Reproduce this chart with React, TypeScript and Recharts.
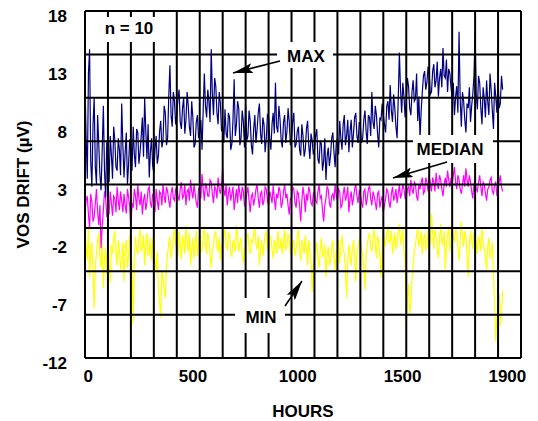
import { LineChart, Line, XAxis, YAxis, ReferenceLine } from 'recharts';

// hours since start, one reading every 5 h
const HOURS = [
  0, 5, 10, 15, 20, 25, 30, 35, 40, 45, 50, 55, 60, 65, 70, 75, 80, 85, 90, 95,
  100, 105, 110, 115, 120, 125, 130, 135, 140, 145, 150, 155, 160, 165, 170, 175, 180, 185, 190, 195,
  200, 205, 210, 215, 220, 225, 230, 235, 240, 245, 250, 255, 260, 265, 270, 275, 280, 285, 290, 295,
  300, 305, 310, 315, 320, 325, 330, 335, 340, 345, 350, 355, 360, 365, 370, 375, 380, 385, 390, 395,
  400, 405, 410, 415, 420, 425, 430, 435, 440, 445, 450, 455, 460, 465, 470, 475, 480, 485, 490, 495,
  500, 505, 510, 515, 520, 525, 530, 535, 540, 545, 550, 555, 560, 565, 570, 575, 580, 585, 590, 595,
  600, 605, 610, 615, 620, 625, 630, 635, 640, 645, 650, 655, 660, 665, 670, 675, 680, 685, 690, 695,
  700, 705, 710, 715, 720, 725, 730, 735, 740, 745, 750, 755, 760, 765, 770, 775, 780, 785, 790, 795,
  800, 805, 810, 815, 820, 825, 830, 835, 840, 845, 850, 855, 860, 865, 870, 875, 880, 885, 890, 895,
  900, 905, 910, 915, 920, 925, 930, 935, 940, 945, 950, 955, 960, 965, 970, 975, 980, 985, 990, 995,
  1000, 1005, 1010, 1015, 1020, 1025, 1030, 1035, 1040, 1045, 1050, 1055, 1060, 1065, 1070, 1075, 1080, 1085, 1090, 1095,
  1100, 1105, 1110, 1115, 1120, 1125, 1130, 1135, 1140, 1145, 1150, 1155, 1160, 1165, 1170, 1175, 1180, 1185, 1190, 1195,
  1200, 1205, 1210, 1215, 1220, 1225, 1230, 1235, 1240, 1245, 1250, 1255, 1260, 1265, 1270, 1275, 1280, 1285, 1290, 1295,
  1300, 1305, 1310, 1315, 1320, 1325, 1330, 1335, 1340, 1345, 1350, 1355, 1360, 1365, 1370, 1375, 1380, 1385, 1390, 1395,
  1400, 1405, 1410, 1415, 1420, 1425, 1430, 1435, 1440, 1445, 1450, 1455, 1460, 1465, 1470, 1475, 1480, 1485, 1490, 1495,
  1500, 1505, 1510, 1515, 1520, 1525, 1530, 1535, 1540, 1545, 1550, 1555, 1560, 1565, 1570, 1575, 1580, 1585, 1590, 1595,
  1600, 1605, 1610, 1615, 1620, 1625, 1630, 1635, 1640, 1645, 1650, 1655, 1660, 1665, 1670, 1675, 1680, 1685, 1690, 1695,
  1700, 1705, 1710, 1715, 1720, 1725, 1730, 1735, 1740, 1745, 1750, 1755, 1760, 1765, 1770, 1775, 1780, 1785, 1790, 1795,
  1800, 1805, 1810, 1815, 1820,
];

const MAX_VOS = [
  11.6, 7.0, 3.5, 12.6, 14.7, 5.0, 2.8, 8.2, 10.5, 4.5, 3.0, 9.0, 6.5, 3.8, 2.5, 6.0, 9.8, 4.2, 1.9, 6.8,
  5.0, 3.2, 7.2, 5.6, 3.5, 8.0, 6.8, 4.5, 4.2, 7.0, 6.0, 3.8, 10.0, 6.4, 3.6, 5.8, 7.5, 3.0, 4.8, 6.9,
  6.2, 4.2, 8.0, 5.6, 4.5, 7.8, 7.5, 4.8, 5.8, 7.2, 8.8, 5.4, 10.5, 7.6, 5.2, 8.2, 3.6, 5.8, 7.0, 4.6,
  4.0, 6.0, 7.2, 4.8, 5.5, 7.6, 8.5, 6.2, 6.8, 9.8, 9.2, 6.4, 7.0, 10.6, 13.3, 9.0, 8.0, 11.0, 10.2, 8.2,
  9.0, 10.4, 11.2, 8.4, 7.8, 9.6, 10.5, 7.4, 8.6, 11.0, 9.8, 8.0, 7.2, 10.2, 8.8, 6.2, 6.5, 8.4, 9.0, 7.0,
  7.5, 8.6, 6.0, 9.4, 12.6, 9.8, 8.8, 11.2, 10.2, 8.4, 14.7, 10.8, 9.0, 12.2, 11.5, 9.2, 8.2, 11.0, 10.0, 7.6,
  8.0, 6.6, 9.5, 7.4, 7.0, 9.2, 8.8, 6.0, 6.5, 8.6, 12.1, 7.2, 8.2, 10.2, 9.6, 6.4, 7.0, 9.4, 8.5, 6.2,
  9.8, 6.8, 7.2, 9.4, 8.5, 6.4, 5.6, 7.8, 9.0, 6.6, 7.8, 9.2, 10.0, 7.4, 6.5, 8.8, 8.2, 5.8, 7.0, 9.0,
  8.8, 7.0, 6.0, 8.2, 9.2, 7.4, 11.8, 8.0, 7.5, 9.8, 8.6, 6.8, 6.2, 8.4, 9.0, 6.6, 7.6, 9.6, 8.4, 6.4,
  7.0, 8.4, 9.2, 6.2, 6.5, 7.6, 8.0, 6.0, 5.5, 8.2, 7.2, 5.4, 6.0, 7.8, 8.5, 6.4, 5.2, 7.4, 6.8, 5.6,
  6.0, 7.2, 7.8, 5.2, 4.8, 6.8, 6.5, 4.2, 5.0, 7.0, 3.4, 5.4, 6.2, 4.6, 5.5, 7.0, 7.5, 5.8, 4.5, 6.6,
  7.0, 5.6, 8.5, 7.0, 6.0, 8.2, 9.0, 6.4, 7.2, 8.6, 5.8, 7.6, 8.6, 6.2, 7.4, 8.8, 9.2, 7.2, 6.6, 8.4,
  8.0, 6.6, 7.0, 8.6, 9.4, 7.6, 6.5, 9.0, 8.8, 7.2, 11.0, 8.4, 7.8, 9.8, 9.0, 7.4, 6.2, 8.8, 8.6, 10.0,
  9.0, 8.2, 7.5, 9.8, 10.2, 8.6, 11.6, 9.4, 8.4, 10.8, 9.6, 8.0, 7.0, 10.4, 14.4, 11.2, 9.2, 11.8, 10.6, 8.8,
  10.0, 12.2, 11.5, 9.6, 9.0, 11.0, 12.0, 10.2, 10.4, 12.6, 8.5, 10.6, 7.0, 9.4, 11.0, 12.4, 12.8, 11.2, 11.8, 13.2,
  12.5, 10.8, 11.0, 12.8, 13.4, 11.4, 12.0, 13.6, 10.6, 12.2, 13.0, 11.4, 14.8, 12.4, 12.2, 13.8, 11.0, 13.0, 12.6, 11.4,
  10.5, 11.8, 9.0, 10.6, 11.5, 9.2, 16.2, 10.4, 8.0, 11.0, 10.2, 8.6, 7.5, 10.0, 9.6, 11.4, 8.4, 9.8, 10.8, 12.4,
  16.1, 10.8, 9.5, 12.4, 11.8, 9.6, 8.2, 11.4, 10.4, 8.8, 12.0, 10.2, 9.0, 12.6, 11.2, 9.4, 7.8, 11.8, 10.6, 9.2,
  12.0, 9.6, 10.0, 12.4, 11.2,
];

const MEDIAN_VOS = [
  0.5, 1.6, 2.0, 0.4, -0.8, 2.2, 1.5, -0.2, 0.2, 1.4, 2.6, 0.6, -0.5, 1.2, -2.5, -0.6, 0.8, 2.4, 1.8, 0.2,
  1.2, 0.4, 2.4, 1.4, 0.3, 2.0, 1.8, 0.6, 2.8, 1.6, 0.8, 2.4, 1.6, 0.6, 2.2, 1.2, 0.5, 2.6, 1.9, 1.0,
  -0.8, 1.4, 1.0, 2.6, 2.0, 0.8, 3.0, 1.8, 1.2, 2.4, 0.4, 1.6, 2.2, 0.8, 1.5, 2.6, 2.8, 1.4, 1.0, 2.2,
  1.8, 0.6, 2.6, 1.6, 0.8, 2.4, 2.2, 1.2, 3.0, 2.0, 1.4, 2.8, 2.4, 1.6, 1.0, 2.2, 2.8, 1.8, 1.6, 2.6,
  2.8, 2.0, 1.6, 2.6, 3.2, 1.8, 2.0, 3.0, 1.2, 2.4, 2.6, 1.6, 3.4, 2.4, 1.8, 3.0, 2.2, 1.4, 1.0, 2.6,
  2.4, 1.8, 3.9, 2.6, 1.6, 3.0, 2.8, 2.0, 2.0, 3.4, 3.2, 2.2, 1.4, 2.8, 2.6, 1.8, 3.6, 2.6, 2.2, 3.0,
  4.5, 2.6, 2.0, 3.0, 1.2, 2.2, 2.8, 1.6, 2.2, 2.8, 0.8, 1.8, 2.6, 1.4, 3.0, 2.2, 1.6, 2.8, 2.4, 1.2,
  1.4, 2.2, 2.8, 1.6, 0.6, 2.0, 2.2, 1.2, 1.8, 2.6, 3.0, 1.8, 1.0, 2.2, 2.4, 1.2, 1.6, 2.8, 2.6, 1.6,
  1.2, 2.4, 2.0, 1.4, 2.9, 1.8, 0.8, 2.2, 1.8, 2.8, 2.4, 1.0, 1.4, 2.4, 3.0, 1.8, 2.2, 1.2, 0.4, 1.8,
  1.8, 2.8, 2.6, 1.4, 1.0, 2.4, 2.2, 1.2, -0.2, 1.6, 2.8, 2.0, 0.6, 2.2, 1.6, 2.8, 2.4, 1.4, 1.2, 2.2,
  2.4, 1.6, 1.4, 2.4, 3.0, 1.8, 2.0, 0.8, -0.2, 1.2, 1.8, 2.8, 2.6, 1.4, 1.0, 2.0, 2.2, 1.6, 3.0, 2.0,
  1.6, 2.6, 2.4, 1.0, 1.2, 2.2, 2.8, 1.6, 2.0, 2.8, 0.6, 1.8, 2.4, 1.2, 1.8, 2.6, 3.0, 2.0, 1.4, 2.4,
  2.2, 1.4, 1.0, 2.4, 2.6, 1.2, 1.8, 2.6, 2.9, 1.8, 1.2, 2.4, 2.0, 1.4, 0.8, 2.2, 2.4, 1.0, 1.6, 2.0,
  0.6, 1.2, 1.8, 2.6, 2.4, 1.4, 1.0, 2.2, 2.8, 1.6, 2.0, 2.6, 1.4, 2.2, 3.0, 1.8, 2.2, 3.0, 2.6, 1.8,
  1.8, 2.6, 2.8, 2.0, 3.4, 2.6, 2.2, 3.2, 3.0, 2.0, 1.6, 3.0, 2.6, 3.2, 3.6, 2.2, 2.4, 3.6, 3.2, 2.4,
  3.8, 3.0, 2.4, 3.6, 3.2, 2.4, 4.0, 3.0, 2.6, 3.8, 3.4, 2.6, 2.0, 3.0, 3.6, 2.8, 4.2, 3.4, 2.8, 3.6,
  3.0, 3.8, 4.5, 3.2, 2.6, 3.8, 3.4, 2.6, 2.2, 3.0, 3.8, 2.8, 4.4, 3.4, 2.8, 3.8, 3.2, 2.4, 1.8, 3.0,
  3.4, 2.6, 2.4, 3.2, 3.8, 2.8, 2.0, 3.2, 3.0, 2.2, 1.6, 2.6, 2.8, 3.4, 3.6, 2.4, 2.2, 3.0, 3.2, 2.0,
  2.6, 3.2, 3.8, 2.8, 2.4,
];

const MIN_VOS = [
  -1.0, -2.6, -3.5, -0.6, -5.0, -2.8, -2.0, -4.6, -7.7, -4.0, -3.0, -1.8, -1.2, -3.2, -4.2, -2.0, -6.0, -3.4, -2.5, -4.8,
  -2.0, -3.4, -5.5, -2.2, -3.0, -1.6, -1.0, -2.8, -4.0, -1.8, -2.5, -4.4, -3.6, -2.0, -5.4, -2.6, -1.8, -4.2, -3.2, -1.4,
  -2.6, -4.2, -9.0, -3.4, -1.5, -2.6, -3.0, -1.6, -0.8, -2.8, -2.4, -1.4, -4.0, -2.2, -1.2, -3.2, -2.8, -1.6, -3.6, -1.8,
  -2.0, -3.6, -4.5, -2.8, -6.0, -7.2, -8.5, -4.4, -5.0, -6.2, -6.8, -4.0, -3.0, -2.0, -1.5, -3.4, -2.6, -1.4, -0.8, -2.2,
  -2.4, -3.2, -1.0, -2.2, -3.5, -1.4, -2.0, -3.0, -0.5, -2.0, -2.8, -1.2, -4.0, -2.6, -1.6, -3.4, -2.2, -1.0, -3.2, -2.0,
  -1.4, -2.8, -2.6, -1.6, -0.6, -2.2, -3.0, -1.2, -1.8, -3.0, -4.2, -2.6, -2.2, -1.4, -1.0, -2.4, -2.8, -1.6, -3.6, -2.2,
  -2.0, -1.4, -0.8, -2.4, -2.6, -1.2, -1.4, -3.0, -3.2, -1.8, -2.2, -2.8, -0.5, -1.6, -2.8, -2.0, -1.6, -3.0, -3.8, -2.4,
  -2.4, -1.6, -1.2, -2.6, -3.0, -1.8, -2.0, -1.2, -0.6, -2.2, -2.6, -1.4, -4.0, -2.6, -1.8, -3.2, -2.2, -1.4, -1.0, -2.6,
  -2.8, -1.4, -1.6, -2.6, -3.4, -1.8, -2.2, -3.0, -1.0, -2.2, -2.6, -1.6, -3.0, -2.0, -0.8, -2.6, -2.4, -1.2, -1.8, -3.0,
  -3.0, -2.2, -1.8, -3.2, -2.6, -1.6, -0.8, -2.4, -3.6, -1.8, -2.2, -3.0, -1.4, -2.6, -4.0, -1.8, -2.8, -3.6, -6.3, -4.0,
  -3.5, -2.4, -2.0, -3.4, -4.2, -2.6, -1.6, -3.2, -3.0, -2.2, -5.0, -3.2, -2.4, -4.0, -3.6, -2.4, -1.8, -3.0, -4.4, -2.8,
  -2.6, -1.8, -3.8, -2.4, -1.4, -2.6, -3.0, -4.4, -6.8, -3.8, -2.2, -3.0, -4.0, -2.6, -1.8, -3.2, -5.4, -3.0, -2.4, -1.8,
  -1.6, -2.6, -3.0, -4.2, -6.1, -3.4, -2.2, -1.6, -1.2, -2.4, -2.8, -1.8, -0.8, -2.2, -3.4, -1.4, -2.0, -3.2, -5.0, -2.6,
  -1.0, -1.8, -2.4, -1.2, -0.6, -2.0, -1.8, -1.0, -3.0, -2.0, -1.2, -2.6, -2.2, -1.0, -0.4, -2.2, -1.6, -0.8, -2.8, -3.8,
  -9.4, -6.8, -5.6, -8.2, -7.4, -5.2, -4.0, -2.8, -2.2, -1.4, -0.8, -2.4, -1.8, -1.0, -3.0, -1.8, -1.2, -2.6, -2.4, -1.0,
  -1.0, -2.2, 0.5, -1.2, -2.6, -0.8, -1.6, -2.6, -3.4, -1.6, -0.4, -2.0, -2.2, -1.0, -4.4, -2.2, -1.4, -0.6, -2.8, -1.8,
  -0.6, -1.6, -2.0, -0.8, -1.2, -2.4, -3.6, -1.8, -0.2, -1.4, -2.4, -1.0, -1.6, -3.0, -5.0, -2.2, -1.0, -1.8, -2.6, -1.2,
  -1.4, -2.2, -3.0, -1.4, -2.0, -2.8, -0.8, -1.8, -2.6, -3.2, -4.4, -2.4, -1.6, -3.4, -2.8, -2.0, -5.0, -7.2, -10.6, -8.4,
  -7.5, -6.4, -9.2, -8.0, -6.2,
];

const Y_TICKS = [18, 13, 8, 3, -2, -7, -12];
const HOUR_TICKS = [0, 500, 1000, 1500, 1900];
const HOUR_LABELS = ['0', '500', '1000', '1500', '1900'];
const GRID_HOURS = [
  0, 100, 200, 300, 400, 500, 600, 700, 800, 900,
  1000, 1100, 1200, 1300, 1400, 1500, 1600, 1700, 1800, 1900,
];
const GRID_VOS = [18, 14.25, 10.5, 6.75, 3, -0.75, -4.5, -8.25, -12];

const data = HOURS.map((h, i) => ({
  h,
  max: MAX_VOS[i],
  median: MEDIAN_VOS[i],
  min: MIN_VOS[i],
}));

const FONT = "'Liberation Sans', Arial, Helvetica, sans-serif";
const tickStyle = { fill: '#000', fontSize: 17, fontWeight: 700, fontFamily: FONT };

// plot box in pixels (margin + axis sizes below)
const PLOT_LEFT = 85;
const PLOT_WIDTH = 436;

// the printed hour labels sit on an even spacing of their own, not on the grid
function HourTick(props: any) {
  const { y, index } = props;
  const x = PLOT_LEFT + ((index + 0.03) * PLOT_WIDTH) / 4.16;
  return (
    <text x={x} y={y} dy="0.72em" textAnchor="middle" style={tickStyle}>
      {HOUR_LABELS[index]}
    </text>
  );
}

function Notes() {
  const txt = { fontSize: 17, fontWeight: 700, fontFamily: FONT, fill: '#000' };
  return (
    <svg width={538} height={421} style={{ position: 'absolute', left: 0, top: 0 }}>
      <defs>
        <marker id="head" markerUnits="userSpaceOnUse" markerWidth={20} markerHeight={10}
          refX={20} refY={5} orient="auto">
          <path d="M0,0 L20,5 L0,10 L4,5 z" fill="#000" />
        </marker>
      </defs>
      <rect x={92} y={17} width={80} height={25} fill="#fff" />
      <text x={129} y={34} textAnchor="middle" style={txt}>n = 10</text>

      <rect x={277} y={42} width={56} height={26} fill="#fff" />
      <text x={306} y={62} textAnchor="middle" style={txt}>MAX</text>
      <line x1={280} y1={61} x2={233} y2={73} stroke="#000" strokeWidth={1.5} markerEnd="url(#head)" />

      <rect x={413} y={135} width={80} height={28} fill="#fff" />
      <text x={450} y={155} textAnchor="middle" style={txt}>MEDIAN</text>
      <line x1={447} y1={162} x2={393} y2={178} stroke="#000" strokeWidth={1.5} markerEnd="url(#head)" />

      <rect x={235} y={298} width={50} height={35} fill="#fff" />
      <text x={261} y={323} textAnchor="middle" style={txt}>MIN</text>
      <line x1={285} y1={306} x2={302} y2={281} stroke="#000" strokeWidth={1.5} markerEnd="url(#head)" />
    </svg>
  );
}

export default function App() {
  return (
    <div style={{ position: 'absolute', left: 0, top: 0, width: 538, height: 421, background: '#fff' }}>
      <LineChart width={538} height={421} data={data} margin={{ top: 11, right: 17, bottom: 0, left: 0 }}>
        <XAxis
          dataKey="h"
          type="number"
          domain={[0, 1900]}
          allowDataOverflow
          ticks={HOUR_TICKS}
          interval={0}
          axisLine={false}
          tickLine={false}
          tickSize={0}
          tickMargin={12}
          height={63}
          tick={<HourTick />}
          label={{ value: 'HOURS', position: 'insideBottom', offset: 4, style: tickStyle }}
        />
        <YAxis
          type="number"
          domain={[-12, 18]}
          allowDataOverflow
          ticks={Y_TICKS}
          interval={0}
          width={85}
          axisLine={false}
          tickLine={false}
          tickSize={0}
          tickMargin={18}
          tick={{ ...tickStyle, dy: 5 }}
          label={{ value: 'VOS DRIFT (µV)', angle: -90, position: 'center', dx: -20, style: { ...tickStyle, textAnchor: 'middle' } }}
        />
        <Line dataKey="min" stroke="#ffff00" strokeWidth={1.2} dot={false} isAnimationActive={false} />
        <Line dataKey="median" stroke="#ff00ff" strokeWidth={1.2} dot={false} isAnimationActive={false} />
        <Line dataKey="max" stroke="#000080" strokeWidth={1.2} dot={false} isAnimationActive={false} />
        {GRID_VOS.map((v) => (
          <ReferenceLine key={'y' + v} y={v} stroke="#000" strokeWidth={2} />
        ))}
        {GRID_HOURS.map((h) => (
          <ReferenceLine key={'x' + h} x={h} stroke="#000" strokeWidth={2} />
        ))}
      </LineChart>
      <Notes />
    </div>
  );
}
